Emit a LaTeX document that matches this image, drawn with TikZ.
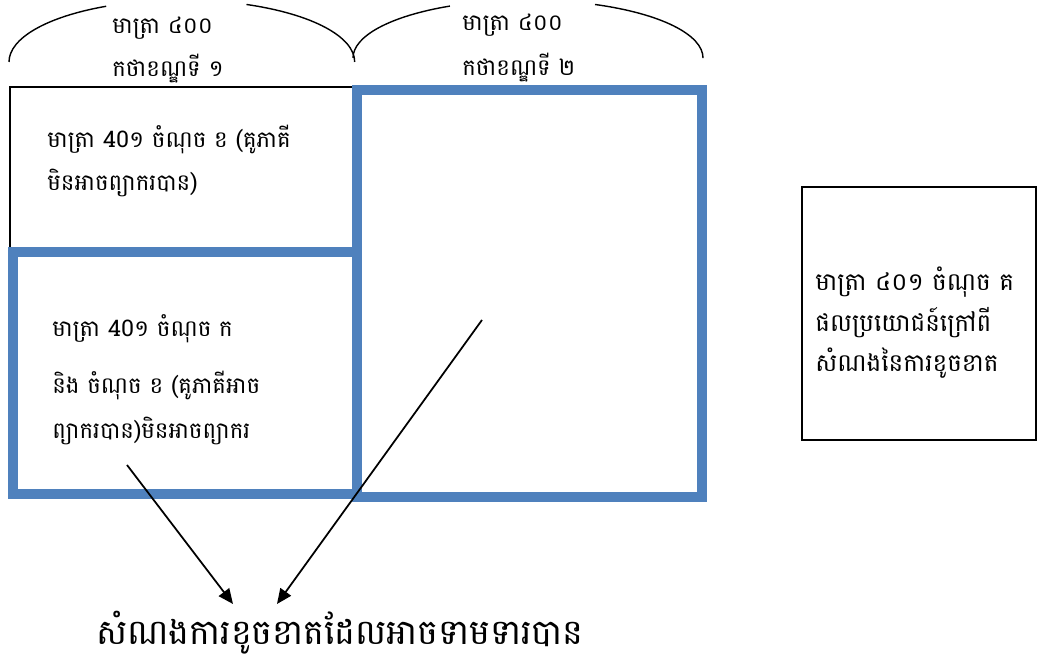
\documentclass[tikz,border=0pt]{standalone}
\usepackage{fontspec}
\newfontfamily\khmer[Script=Khmer]{Battambang}
\usepackage{tikz}
\usetikzlibrary{arrows.meta,positioning,calc}
\definecolor{frameblue}{RGB}{79,129,189}
\tikzset{
  bluebox/.style={draw=frameblue, line width=0.2cm},
  thinbox/.style={draw=black, line width=0.8pt},
  khtext/.style={align=left, inner sep=0pt, font=\khmer\fontsize{13}{24}\selectfont},
  pointer/.style={draw=black, line width=1pt, -{Triangle[length=0.3cm, width=0.26cm]}}
}
\begin{document}
\begin{tikzpicture}
  \useasboundingbox (0,0) rectangle (20.74,13.26);
  % outer frame of article 400
  \draw[thinbox] (0.2,11.52) rectangle (14.1,3.4);
  % braces over the two paragraphs
  \draw[line width=0.8pt] (0.18,12.02) arc[start angle=180, end angle=116, x radius=3.46cm, y radius=1.24cm];
  \draw[line width=0.8pt] (4.93,13.17) arc[start angle=68, end angle=0, x radius=3.46cm, y radius=1.24cm];
  \draw[line width=0.8pt] (7.06,12.1) arc[start angle=180, end angle=116.5, x radius=3.5cm, y radius=1.16cm];
  \draw[line width=0.8pt] (11.9,13.17) arc[start angle=67.5, end angle=0, x radius=3.5cm, y radius=1.16cm];
  \node[khtext, anchor=west] (hdrA) at (2.24,12.26) {មាត្រា ៤០០\\កថាខណ្ឌទី ១};
  \node[khtext, anchor=west] (hdrB) at (9.24,12.3) {មាត្រា ៤០០\\[2pt]កថាខណ្ឌទី ២};
  % paragraph 1 text
  \node[khtext, anchor=west] (parA) at (0.94,10.04) {មាត្រា 40១ ចំណុច ខ (គូភាគី\\មិនអាចព្យាករបាន)};
  % blue frames
  \draw[bluebox] (0.26,8.22) rectangle (7.14,3.38);
  \draw[bluebox] (7.14,11.46) rectangle (14.04,3.32);
  \node[khtext, anchor=west] (parB) at (1.04,5.66) {មាត្រា 40១ ចំណុច ក\\[8pt]និង ចំណុច ខ (គូភាគីអាច\\[2pt]ព្យាករបាន)មិនអាចព្យាករ};
  % article 401 c, outside
  \draw[thinbox] (16.04,9.52) rectangle (20.72,4.46);
  \node[khtext, anchor=west, font=\khmer\fontsize{14}{23}\selectfont] (gain) at (16.3,6.8) {មាត្រា ៤០១ ចំណុច គ\\ផលប្រយោជន៍ក្រៅពី\\សំណងនៃការខូចខាត};
  % result
  \node[inner sep=0pt, font=\khmer\fontsize{19.8}{24}\selectfont] (goal) at (6.8,0.6) {សំណងការខូចខាតដែលអាចទាមទារបាន};
  \coordinate (fromA) at (2.54,3.96);
  \coordinate (fromB) at (9.64,6.86);
  \coordinate (tipA) at (4.66,1.18);
  \coordinate (tipB) at (5.54,1.18);
  \draw[pointer] (fromA) -- (tipA);
  \draw[pointer] (fromB) -- (tipB);
\end{tikzpicture}
\end{document}
